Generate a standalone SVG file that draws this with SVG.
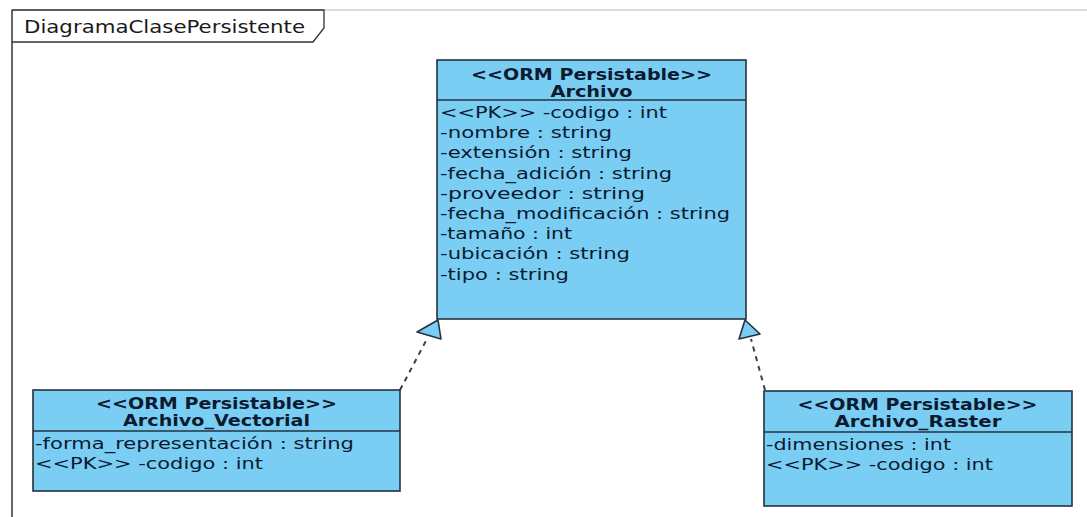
<svg xmlns="http://www.w3.org/2000/svg" width="1087" height="517" viewBox="0 0 1087 517">
<defs>
<style>
.box{fill:#7acef4;stroke:#24313f;stroke-width:1.6}
.div{stroke:#24313f;stroke-width:1.4}
.st{font-family:"DejaVu Sans",Verdana,sans-serif;font-size:15px;font-weight:bold;fill:#0c1a30;text-anchor:middle}
.at{font-family:"DejaVu Sans",Verdana,sans-serif;font-size:15px;fill:#0c1a30}
.dash{fill:none;stroke:#3a3f48;stroke-width:2;stroke-dasharray:5,5}
.head{fill:#7acef4;stroke:#24313f;stroke-width:1.6;stroke-linejoin:round}
</style>
</defs>
<rect width="1087" height="517" fill="#ffffff"/>
<g id="frame">
<line x1="11" y1="10" x2="1087" y2="10" stroke="#b8b8b8" stroke-width="1"/>
<line x1="12" y1="10" x2="12" y2="517" stroke="#333" stroke-width="1.5"/>
<path d="M12,10 H324 V28 L313,42 H12" fill="none" stroke="#333" stroke-width="1.3"/>
<text x="24" y="32.5" font-family="DejaVu Sans,Verdana,sans-serif" font-size="17" fill="#1a1a1a" textLength="281" lengthAdjust="spacingAndGlyphs">DiagramaClasePersistente</text>
</g>
<g id="connectors">
<line class="dash" x1="400" y1="390" x2="428" y2="337"/>
<polygon class="head" points="438,320 441,339 417,332"/>
<line class="dash" x1="765" y1="390" x2="751" y2="339"/>
<polygon class="head" points="745,320 760,334 739,339"/>
</g>
<g id="Archivo">
<rect class="box" x="437" y="60" width="309" height="259"/>
<line class="div" x1="437" y1="100" x2="746" y2="100"/>
<text class="st" x="591.5" y="79.5" textLength="241" lengthAdjust="spacingAndGlyphs">&lt;&lt;ORM Persistable&gt;&gt;</text>
<text class="st" x="591.5" y="97" textLength="82" lengthAdjust="spacingAndGlyphs">Archivo</text>
<text class="at" x="440" y="118" textLength="227" lengthAdjust="spacingAndGlyphs">&lt;&lt;PK&gt;&gt; -codigo : int</text>
<text class="at" x="440" y="138.2" textLength="172" lengthAdjust="spacingAndGlyphs">-nombre : string</text>
<text class="at" x="440" y="158.4" textLength="192" lengthAdjust="spacingAndGlyphs">-extensión : string</text>
<text class="at" x="440" y="178.6" textLength="232" lengthAdjust="spacingAndGlyphs">-fecha_adición : string</text>
<text class="at" x="440" y="198.8" textLength="205" lengthAdjust="spacingAndGlyphs">-proveedor : string</text>
<text class="at" x="440" y="219" textLength="290" lengthAdjust="spacingAndGlyphs">-fecha_modificación : string</text>
<text class="at" x="440" y="239.2" textLength="132" lengthAdjust="spacingAndGlyphs">-tamaño : int</text>
<text class="at" x="440" y="259.4" textLength="190" lengthAdjust="spacingAndGlyphs">-ubicación : string</text>
<text class="at" x="440" y="279.6" textLength="129" lengthAdjust="spacingAndGlyphs">-tipo : string</text>
</g>
<g id="Archivo_Vectorial">
<rect class="box" x="33" y="390" width="367" height="101"/>
<line class="div" x1="33" y1="431" x2="400" y2="431"/>
<text class="st" x="216.5" y="408.5" textLength="241" lengthAdjust="spacingAndGlyphs">&lt;&lt;ORM Persistable&gt;&gt;</text>
<text class="st" x="216.5" y="426" textLength="187" lengthAdjust="spacingAndGlyphs">Archivo_Vectorial</text>
<text class="at" x="35" y="449" textLength="319" lengthAdjust="spacingAndGlyphs">-forma_representación : string</text>
<text class="at" x="35" y="469.2" textLength="228" lengthAdjust="spacingAndGlyphs">&lt;&lt;PK&gt;&gt; -codigo : int</text>
</g>
<g id="Archivo_Raster">
<rect class="box" x="764" y="391" width="308" height="115"/>
<line class="div" x1="764" y1="432" x2="1072" y2="432"/>
<text class="st" x="917.5" y="409.5" textLength="240" lengthAdjust="spacingAndGlyphs">&lt;&lt;ORM Persistable&gt;&gt;</text>
<text class="st" x="918" y="427" textLength="167" lengthAdjust="spacingAndGlyphs">Archivo_Raster</text>
<text class="at" x="766" y="449.5" textLength="185" lengthAdjust="spacingAndGlyphs">-dimensiones : int</text>
<text class="at" x="766" y="469.7" textLength="227" lengthAdjust="spacingAndGlyphs">&lt;&lt;PK&gt;&gt; -codigo : int</text>
</g>
</svg>
